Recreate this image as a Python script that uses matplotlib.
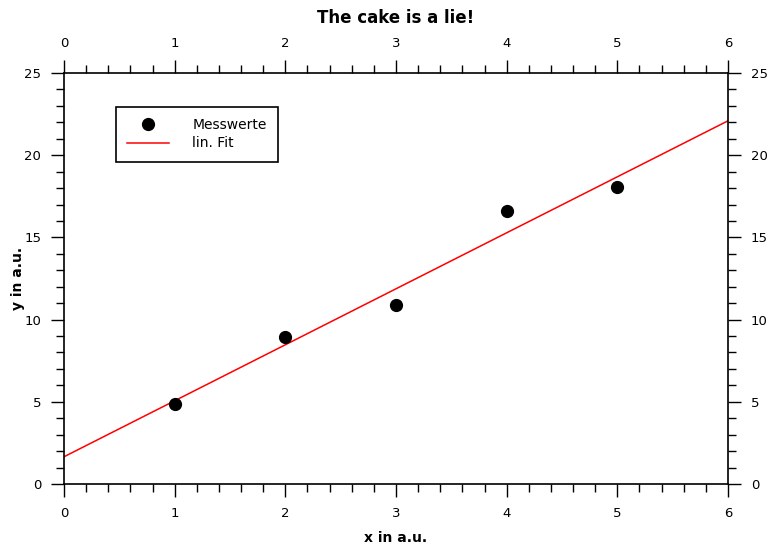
import numpy as np
import matplotlib
matplotlib.use("Agg")
import matplotlib.pyplot as plt
from matplotlib.ticker import MultipleLocator

# Messwerte
x_values = [1, 2, 3, 4, 5]
y_values = [4.87, 8.94, 10.89, 16.6, 18.07]

plt.rcParams['font.family'] = ['DejaVu Sans']
plt.rcParams['font.size'] = 10

fig = plt.figure(figsize=(7.69, 5.44), dpi=100)
ax = fig.add_axes([0.0832, 0.1103, 0.8635, 0.7555])

# linearer Fit
slope, intercept = np.polyfit(x_values, y_values, 1)
x_fit = np.array([0, 6])
ax.plot(x_fit, slope * x_fit + intercept, color='red', lw=1.1, label='lin. Fit')
ax.plot(x_values, y_values, 'o', color='black', ms=8.5, label='Messwerte')

ax.set_xlim(0, 6)
ax.set_ylim(0, 25)
ax.xaxis.set_major_locator(MultipleLocator(1))
ax.xaxis.set_minor_locator(MultipleLocator(0.2))
ax.yaxis.set_major_locator(MultipleLocator(5))
ax.yaxis.set_minor_locator(MultipleLocator(1))

ax.tick_params(which='both', direction='out', top=True, right=True,
               labeltop=True, labelright=True, width=1.0, colors='black')
ax.tick_params(which='major', length=9.5, labelsize=9.5, pad=7)
ax.tick_params(which='minor', length=5.5)
for s in ax.spines.values():
    s.set_linewidth(1.2)

ax.set_title('The cake is a lie!', fontsize=12, fontweight='bold', pad=10)
ax.set_xlabel('x in a.u.', fontsize=10, fontweight='bold')
ax.set_ylabel('y in a.u.', fontsize=10, fontweight='bold')
ax.xaxis.set_label_coords(0.5, -0.115)
ax.yaxis.set_label_coords(-0.058, 0.5)

handles, labels = ax.get_legend_handles_labels()
leg = ax.legend(handles[::-1], labels[::-1], loc='upper left',
                bbox_to_anchor=(0.078, 0.917), borderaxespad=0,
                fancybox=False, framealpha=1, edgecolor='black',
                borderpad=0.8, handlelength=3.0, handletextpad=1.7,
                labelspacing=0.3, fontsize=10)
leg.get_frame().set_linewidth(1.2)

fig.savefig('out.png', dpi=100)
